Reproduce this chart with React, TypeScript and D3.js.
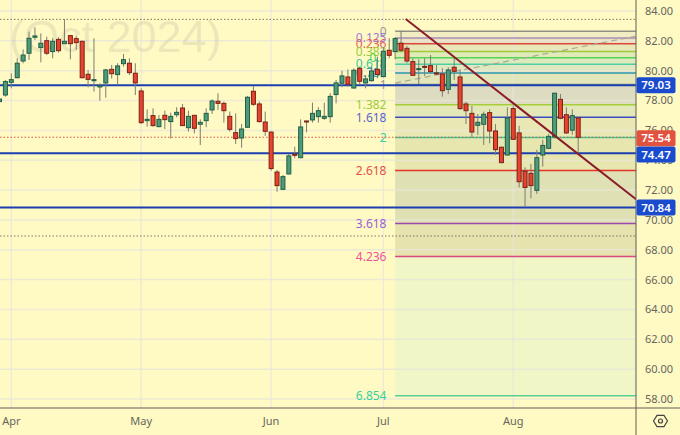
import React from "react";
import * as d3 from "d3";

const opens = [77.93,78.37,79.22,79.53,80.65,81.17,82.24,81.55,82.01,81.28,82.10,81.81,82.35,82.15,81.97,79.76,79.33,78.91,79.18,80.09,79.74,80.47,80.50,79.83,78.64,76.65,76.99,76.25,77.01,76.59,77.05,77.50,76.18,77.01,76.41,76.65,77.37,77.95,77.81,76.94,75.85,75.49,76.21,78.62,77.77,76.56,75.89,73.21,72.05,73.08,74.40,74.17,76.63,76.70,76.92,76.81,76.92,78.40,79.16,79.58,78.84,80.16,79.18,79.33,80.09,79.60,81.37,81.28,81.84,81.50,80.61,80.09,80.29,80.34,79.85,79.78,78.75,80.23,79.58,77.77,77.14,76.34,76.41,77.19,75.96,74.87,74.35,77.46,75.83,73.26,73.12,71.98,74.35,74.80,75.56,78.08,77.05,76.01,76.83];
const highs = [78.37,79.38,79.82,80.83,81.43,82.62,82.91,82.50,82.28,82.17,82.24,83.44,82.39,82.35,82.01,80.05,82.17,79.15,80.12,80.38,80.50,81.12,80.83,80.50,78.82,77.41,77.48,77.03,77.32,77.19,77.55,77.77,77.32,77.03,76.74,77.48,78.08,78.49,77.93,77.26,77.14,76.43,78.30,78.98,77.93,77.26,75.92,73.35,73.01,74.42,74.91,76.74,76.65,77.86,77.55,77.86,78.49,79.38,80.00,80.09,80.16,80.27,79.71,80.27,80.94,81.57,82.17,82.24,82.66,81.66,80.83,80.76,80.83,81.05,80.38,80.16,80.23,80.83,80.09,77.93,77.64,77.10,77.26,77.41,76.43,74.91,77.55,77.64,76.30,73.53,73.75,74.69,75.36,75.76,78.53,78.44,77.55,77.41,76.92];
const lows = [77.59,78.26,78.82,79.49,80.50,80.72,82.06,80.56,81.05,80.83,81.21,81.79,80.76,81.39,79.49,78.89,78.60,77.99,78.19,79.47,79.04,80.27,79.71,78.37,76.43,76.25,76.25,76.21,76.09,75.45,76.88,76.30,75.92,75.80,75.02,76.21,77.10,77.37,76.52,75.92,75.09,74.84,76.16,77.64,76.52,75.63,73.30,71.89,72.01,73.06,74.13,74.13,75.87,76.52,76.52,76.70,76.52,77.81,78.89,78.93,78.80,79.04,78.82,79.27,79.49,79.56,80.83,80.76,81.28,80.50,79.65,79.11,79.65,79.83,79.71,78.26,78.44,79.38,77.37,76.43,75.54,75.69,75.02,75.13,74.35,73.79,74.31,75.36,72.18,70.89,71.45,71.74,73.57,74.75,75.47,76.74,75.76,75.71,74.42];
const closes = [78.10,79.27,79.40,80.50,81.05,82.17,82.33,81.84,81.17,81.97,81.34,81.97,81.81,81.88,79.53,79.42,79.40,79.00,80.05,79.80,80.32,80.74,79.87,79.18,76.52,76.74,76.32,76.74,76.72,76.94,77.21,76.32,76.94,76.14,76.54,77.14,77.97,77.81,77.32,76.07,75.45,76.09,78.22,77.75,76.59,75.94,73.44,72.30,72.90,74.29,74.33,76.23,76.59,77.14,77.32,76.94,78.28,79.18,79.65,79.09,80.03,79.29,79.45,79.98,79.74,81.30,81.03,82.15,81.37,80.65,79.69,80.14,80.25,79.94,79.78,78.66,80.05,79.96,77.46,77.32,75.89,76.54,77.08,75.96,74.71,73.84,76.83,75.40,72.56,72.18,72.30,74.17,74.99,75.60,78.49,76.81,75.83,76.99,75.54];

const priceTicks = [84,82,80,78,76,74,72,70,68,66,64,62,60,58];
const monthNames = ["Apr","May","Jun","Jul","Aug"];
const monthIndex = [2,24,46,65,87];

const supportPrices = [79.03,74.47,70.84];
const dottedPrices = [83.44,68.92];
const lastPrice = 75.54;

const fibRatios = [0,0.125,0.236,0.382,0.5,0.618,0.786,1,1.382,1.618,2,2.618,3.618,4.236,6.854];
const fibLabels = ["0","0.125","0.236","0.382","0.5","0.618","0.786","1","1.382","1.618","2","2.618","3.618","4.236","6.854"];
const fibLines = ["#8f8f84","#a78fb8","#d9483f","#9ccc3c","#55d455","#4fcf9f","#2d96b0","#8f8f84","#a5cf3a","#3a4cc0","#35cf9f","#e5332a","#9c4ab0","#d84a80","#55cf95"];
const fibText = ["#9a9a90","#9a7fd8","#e5605a","#9ccc3c","#55d455","#35c9a0","#3aa0c0","#9a9a90","#9ccc3c","#5a66d0","#35d0a0","#e5504a","#9a5fd8","#ec559a","#35d0a0"];
const fibBands = ["#f1ecc2","#ecdfba","#e8e8b8","#e2eab8","#ddeabc","#dfe8c0","#e2e6b8","#dddcc0","#e4e8b8","#e9e8b4","#e6e6ae","#dfe0b4","#e6e3ae","#f1f6c6"];
const fibTop = 82.64;
const fibUnit = 3.562;
const fibStart = 67;

const trendX = [68.79,107.8];
const trendP = [83.46,71.38];
const dashX = [67,107.6];
const dashP = [79.17,82.3];

const W = 680, H = 435, plotR = 636, plotB = 408;
const y = d3.scaleLinear().domain([84,58]).range([11,399]);
const x = d3.scaleLinear().domain([0,100]).range([-0.5,590]);
const font = "'Noto Sans', sans-serif";
const BG = "#fff9c4";

const badges = [
  { label: "79.03", cy: y(79.03), fill: "#1a4bcf" },
  { label: "75.54", cy: y(lastPrice) + 1, fill: "#e2533f" },
  { label: "74.47", cy: y(74.47) + 1.3, fill: "#1a4bcf" },
  { label: "70.84", cy: y(70.84), fill: "#1a4bcf" },
];

export default function App() {
  const fx = x(fibStart);
  const line = d3.line<[number,number]>().x(d => x(d[0])).y(d => y(d[1]));
  const fibY = (r:number) => y(fibTop - r * fibUnit);
  const hex = d3.range(6).map(i => {
    const a = Math.PI / 3 * i;
    return [660.5 + 7 * Math.cos(a), 421 + 6.5 * Math.sin(a)] as [number,number];
  });
  return (
    <svg width={W} height={H} style={{position:"absolute",left:0,top:0,background:BG,fontFamily:font}}>
      <defs>
        <clipPath id="plot"><rect x={0} y={0} width={plotR} height={plotB}/></clipPath>
      </defs>
      <g clipPath="url(#plot)">
        {fibBands.map((c,i)=>(
          <rect key={i} x={fx} width={plotR-fx} y={fibY(fibRatios[i])} height={fibY(fibRatios[i+1])-fibY(fibRatios[i])} fill={c}/>
        ))}
        {priceTicks.map(t=>(
          <line key={t} x1={0} x2={plotR} y1={y(t)} y2={y(t)} stroke="#e8e6d8" strokeOpacity={0.8} strokeWidth={1.5}/>
        ))}
        {monthIndex.map(i=>(
          <line key={i} x1={x(i)} x2={x(i)} y1={0} y2={plotB} stroke="#e8e6d8" strokeOpacity={0.7} strokeWidth={1.5}/>
        ))}
        <text x={9} y={52} fontSize={45} fill="#8a8a80" fillOpacity={0.17} fontFamily="'Liberation Sans', sans-serif">(Oct 2024)</text>
        {dottedPrices.map(p=>(
          <line key={p} x1={0} x2={plotR} y1={y(p)} y2={y(p)} stroke="#77765a" strokeDasharray="1.5 2"/>
        ))}
        {fibRatios.map((r,i)=>(
          <g key={r}>
            <line x1={fx} x2={plotR} y1={fibY(r)} y2={fibY(r)} stroke={fibLines[i]} strokeWidth={1.5}/>
            <text x={386.5} y={fibY(r)} dy="0.36em" textAnchor="end" fontSize={12} fill={fibText[i]}>{fibLabels[i]}</text>
          </g>
        ))}
        <line x1={0} x2={plotR} y1={y(lastPrice)} y2={y(lastPrice)} stroke="#e2533f" strokeDasharray="1.5 2"/>
        <path d={line(dashX.map((d,i)=>[d,dashP[i]] as [number,number])) ?? ""} fill="none" stroke="#a9a99a" strokeWidth={1.2} strokeDasharray="6 4"/>
        {supportPrices.map(p=>(
          <line key={p} x1={0} x2={plotR} y1={y(p)} y2={y(p)} stroke="#1c3fb0" strokeWidth={2}/>
        ))}
        {opens.map((o,i)=>{
          const c = closes[i], up = c >= o;
          const top = y(Math.max(o,c)), bot = y(Math.min(o,c));
          const cx = x(i);
          return (
            <g key={i}>
              <line x1={cx} x2={cx} y1={y(highs[i])} y2={y(lows[i])} stroke="#7d7d72" strokeWidth={1}/>
              <rect x={cx-2} y={top} width={4} height={Math.max(bot-top,1)} fill={up?"#4f9a78":"#e8432e"} stroke={up?"#1f5f45":"#7c2016"} strokeWidth={1}/>
            </g>
          );
        })}
        <path d={line(trendX.map((d,i)=>[d,trendP[i]] as [number,number])) ?? ""} fill="none" stroke="#8b1a2a" strokeWidth={2}/>
      </g>
      <line x1={plotR} x2={plotR} y1={0} y2={H} stroke="#5f5f58" strokeWidth={1}/>
      <line x1={0} x2={W} y1={plotB} y2={plotB} stroke="#5f5f58" strokeWidth={1}/>
      {priceTicks.map(t=>(
        <text key={t} x={673} y={y(t)} dy="0.36em" textAnchor="end" fontSize={11} fill="#66665c">{t.toFixed(2)}</text>
      ))}
      {monthIndex.map((m,i)=>(
        <text key={m} x={x(m)} y={421} dy="0.36em" textAnchor="middle" fontSize={11} fill="#66665c">{monthNames[i]}</text>
      ))}
      {badges.map(b=>(
        <g key={b.label}>
          <rect x={636.5} y={b.cy-8} width={39} height={16} rx={2} fill={b.fill}/>
          <text x={656} y={b.cy} dy="0.36em" textAnchor="middle" fontSize={11.5} fontWeight={600} fill="#fff">{b.label}</text>
        </g>
      ))}
      <polygon points={hex.map(p=>p.join(",")).join(" ")} fill="none" stroke="#444" strokeWidth={1.2}/>
      <circle cx={660.5} cy={421} r={2} fill="none" stroke="#444" strokeWidth={1.2}/>
    </svg>
  );
}
